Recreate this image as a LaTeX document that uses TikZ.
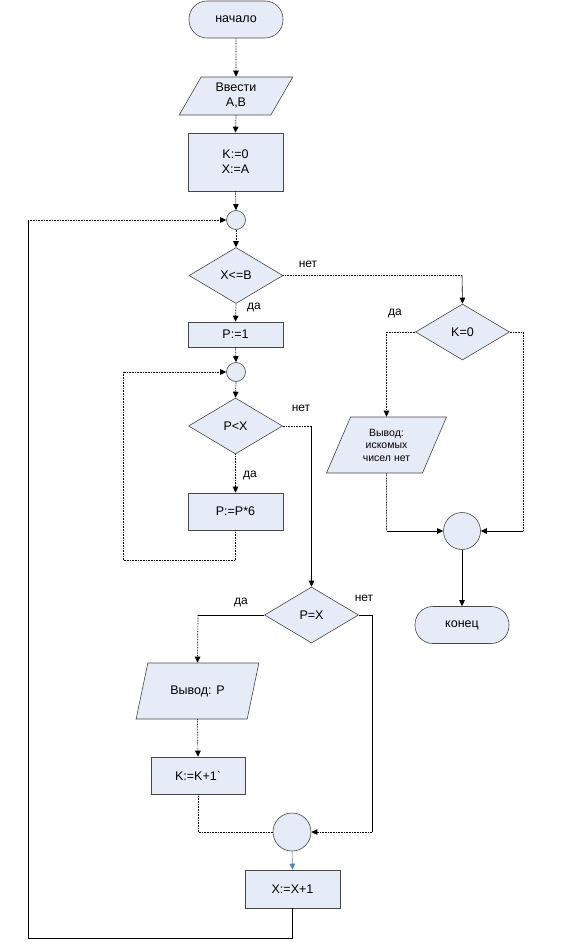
\documentclass[tikz,border=0pt]{standalone}
\usepackage{fontspec}
\newfontfamily\af{Liberation Sans}
\usetikzlibrary{arrows.meta,shapes.geometric}
\definecolor{boxfill}{RGB}{230,236,247}
\definecolor{boxline}{RGB}{70,70,70}
\definecolor{arrblue}{RGB}{79,129,189}
\begin{document}
\begin{tikzpicture}[x=1pt,y=-1pt,
  every node/.style={font=\af\fontsize{12.5}{15}\selectfont},
  box/.style={draw=boxline, fill=boxfill, line width=0.6pt, inner sep=0pt, align=center},
  proc/.style={box, rectangle, minimum width=95pt, minimum height=#1},
  term/.style={box, rectangle, rounded corners=18pt, minimum width=94pt, minimum height=37pt},
  io/.style={box, trapezium, trapezium left angle=#1, trapezium right angle=180-#1, trapezium stretches=true},
  dec/.style={box, diamond, minimum width=94pt, minimum height=56pt},
  circ/.style={box, circle, minimum size=#1},
  lbl/.style={font=\af\fontsize{12}{14}\selectfont, inner sep=0pt},
  dl/.style={line width=0.7pt, dash pattern=on 0.8pt off 0.8pt},
  sl/.style={line width=0.6pt},
  arr/.style={-{Triangle[length=6pt,width=5.5pt]}}
]
\useasboundingbox (0,0) rectangle (567,949);

% nodes
\node[term] (start) at (236,19.5) {начало};
\node[io=63, minimum width=114pt, minimum height=38pt] (in1) at (236,96) {Ввести\\A,B};
\node[proc=58pt] (init) at (235.5,162) {K:=0\\X:=A};
\node[circ=19pt] (c1) at (236,220) {};
\node[dec] (d1) at (236,275.5) {X<=B};
\node[proc=25pt] (p1) at (235.5,334.5) {P:=1};
\node[circ=19pt] (c2) at (236,372) {};
\node[dec] (d3) at (235.5,426) {P<X};
\node[proc=37pt] (p2) at (235.5,511.5) {P:=P*6};
\node[dec] (d4) at (311.5,615) {P=X};
\node[io=60, minimum width=123pt, minimum height=56pt] (out2) at (197.5,691) {Вывод: P};
\node[proc=37pt, minimum width=94pt] (k1) at (198,775.5) {K:=K+1\symbol{96}};
\node[circ=38pt] (c4) at (292,832) {};
\node[proc=38pt] (x1) at (292.5,889) {X:=X+1};
\node[dec] (d2) at (462.5,332) {K=0};
\node[io=64, minimum width=121pt, minimum height=56pt, font=\af\fontsize{10.5}{12.5}\selectfont] (out1) at (386.5,445) {Вывод:\\искомых\\чисел нет};
\node[circ=37pt] (c3) at (462,531) {};
\node[term] (end) at (462,625) {конец};

% helper coordinates
\coordinate (a1) at (462,275.5);
\coordinate (a2) at (311.5,426);
\coordinate (l1) at (123,560);
\coordinate (l2) at (28,938);
\coordinate (l3) at (28,220);
\coordinate (r1) at (523,332);
\coordinate (r2) at (523,531);
\coordinate (r3) at (386.5,531);
\coordinate (b1) at (198,615);
\coordinate (b2) at (372,615);
\coordinate (b3) at (372,832);
\coordinate (b4) at (198,832);

% main column
\draw[dl,arr] (start.south) -- (in1.north);
\draw[dl,arr] (in1.south) -- (init.north);
\draw[dl,arr] (init.south) -- (c1.north);
\draw[dl,arr] (c1.south) -- (d1.north);
\draw[dl,arr] (d1.south) -- (p1.north);
\draw[dl,arr] (p1.south) -- (c2.north);
\draw[dl,arr] (c2.south) -- (d3.north);
\draw[dl,arr] (d3.south) -- (p2.north);
\draw[dl] (p2.south) |- (l1);
\draw[dl,arr] (l1) |- (c2.west);

% X<=B no
\draw[dl] (d1.east) -- (a1);
\draw[sl,arr] (a1) -- (d2.north);
% P<X no
\draw[dl] (d3.east) -- (a2);
\draw[sl,arr] (a2) -- (d4.north);

% K=0 branches
\draw[dl,arr] (d2.west) -| (out1.north);
\draw[dl] (d2.east) -- (r1) -- (r2);
\draw[sl,arr] (r2) -- (c3.east);
\draw[dl] (out1.south) -- (r3);
\draw[sl,arr] (r3) -- (c3.west);
\draw[sl,arr] (c3.south) -- (end.north);

% P=X branches
\draw[sl] (d4.west) -- (b1);
\draw[dl,arr] (b1) -- (out2.north);
\draw[sl] (d4.east) -- (b2) -- (b3);
\draw[dl,arr] (b3) -- (c4.east);
\draw[dl,arr] (out2.south) -- (k1.north);
\draw[dl] (k1.south) -- (b4) -- (c4.west);
\draw[sl,arrblue,arr] (c4.south) -- (x1.north);

% outer loop
\draw[sl] (x1.south) |- (l2) -- (l3);
\draw[dl,arr] (l3) -- (c1.west);

% labels
\node[lbl] (t1) at (308,264) {нет};
\node[lbl] (t2) at (254,307) {да};
\node[lbl] (t3) at (395,313) {да};
\node[lbl] (t4) at (301,408) {нет};
\node[lbl] (t5) at (250,475) {да};
\node[lbl] (t6) at (241,602) {да};
\node[lbl] (t7) at (364,598) {нет};
\end{tikzpicture}
\end{document}
